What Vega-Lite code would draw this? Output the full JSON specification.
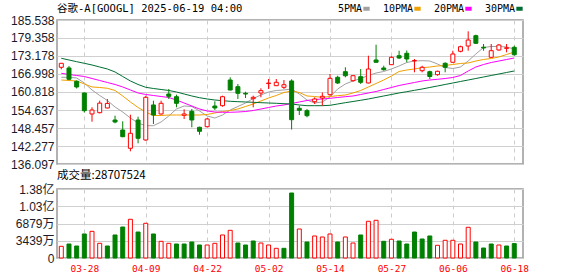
{
  "$schema": "https://vega.github.io/schema/vega-lite/v6.json",
  "padding": {"left": 6, "top": 2, "right": 0, "bottom": 0},
  "background": "#ffffff",
  "spacing": -3,
  "datasets": {
    "k": [
      {"d":"03-25","o":169.30,"h":170.70,"l":168.60,"c":170.67,"v":23300000,"vd":"u","5PMA":165.87,"10PMA":164.94,"20PMA":167.24,"30PMA":172.39},
      {"d":"03-26","o":169.06,"h":169.75,"l":164.90,"c":165.18,"v":27900000,"vd":"d","5PMA":165.87,"10PMA":164.77,"20PMA":166.83,"30PMA":171.81},
      {"d":"03-27","o":164.49,"h":164.77,"l":162.02,"c":162.54,"v":23900000,"vd":"d","5PMA":165.63,"10PMA":164.60,"20PMA":166.49,"30PMA":171.22},
      {"d":"03-28","o":160.47,"h":160.65,"l":153.78,"c":154.40,"v":47900000,"vd":"d","5PMA":163.91,"10PMA":163.57,"20PMA":166.14,"30PMA":170.67},
      {"d":"03-31","o":153.27,"h":155.56,"l":150.62,"c":154.64,"v":53200000,"vd":"u","5PMA":161.51,"10PMA":162.54,"20PMA":165.45,"30PMA":170.09},
      {"d":"04-01","o":153.71,"h":157.83,"l":153.50,"c":157.00,"v":29300000,"vd":"u","5PMA":159.62,"10PMA":162.37,"20PMA":164.77,"30PMA":169.40},
      {"d":"04-02","o":155.33,"h":158.42,"l":155.20,"c":156.90,"v":23900000,"vd":"d","5PMA":157.90,"10PMA":162.09,"20PMA":164.08,"30PMA":168.72},
      {"d":"04-03","o":151.20,"h":152.68,"l":150.07,"c":150.52,"v":45900000,"vd":"d","5PMA":155.67,"10PMA":161.34,"20PMA":163.40,"30PMA":167.69},
      {"d":"04-04","o":147.77,"h":150.76,"l":145.30,"c":145.47,"v":61800000,"vd":"d","5PMA":153.95,"10PMA":159.45,"20PMA":162.54,"30PMA":166.14},
      {"d":"04-07","o":141.49,"h":153.03,"l":140.46,"c":146.64,"v":77200000,"vd":"u","5PMA":151.89,"10PMA":157.39,"20PMA":161.51,"30PMA":164.60},
      {"d":"04-08","o":151.20,"h":152.34,"l":143.20,"c":144.92,"v":51800000,"vd":"d","5PMA":150.18,"10PMA":155.50,"20PMA":160.48,"30PMA":163.40},
      {"d":"04-09","o":144.34,"h":159.55,"l":144.10,"c":159.00,"v":69200000,"vd":"u","5PMA":149.25,"10PMA":153.95,"20PMA":159.96,"30PMA":162.43},
      {"d":"04-10","o":156.36,"h":157.83,"l":149.83,"c":152.92,"v":47900000,"vd":"d","5PMA":149.25,"10PMA":152.75,"20PMA":159.62,"30PMA":162.02},
      {"d":"04-11","o":153.27,"h":157.83,"l":153.03,"c":156.94,"v":33300000,"vd":"u","5PMA":150.52,"10PMA":152.75,"20PMA":159.27,"30PMA":161.68},
      {"d":"04-14","o":160.13,"h":161.85,"l":158.42,"c":159.34,"v":29300000,"vd":"u","5PMA":152.58,"10PMA":152.92,"20PMA":158.93,"30PMA":161.34},
      {"d":"04-15","o":159.20,"h":159.90,"l":155.56,"c":156.94,"v":27900000,"vd":"d","5PMA":154.98,"10PMA":152.92,"20PMA":158.07,"30PMA":160.82},
      {"d":"04-16","o":152.82,"h":154.88,"l":151.55,"c":153.27,"v":27900000,"vd":"d","5PMA":156.01,"10PMA":152.92,"20PMA":157.04,"30PMA":160.13},
      {"d":"04-17","o":154.19,"h":154.98,"l":148.70,"c":151.20,"v":31900000,"vd":"d","5PMA":155.84,"10PMA":152.92,"20PMA":156.01,"30PMA":159.45},
      {"d":"04-21","o":148.70,"h":148.90,"l":146.16,"c":147.33,"v":25900000,"vd":"d","5PMA":154.30,"10PMA":152.92,"20PMA":154.98,"30PMA":158.86},
      {"d":"04-22","o":148.90,"h":151.89,"l":148.70,"c":151.55,"v":25900000,"vd":"u","5PMA":152.58,"10PMA":153.10,"20PMA":154.30,"30PMA":158.42},
      {"d":"04-23","o":156.01,"h":157.62,"l":154.64,"c":155.33,"v":29300000,"vd":"u","5PMA":151.89,"10PMA":153.61,"20PMA":153.95,"30PMA":158.07},
      {"d":"04-24","o":156.12,"h":159.55,"l":155.77,"c":159.20,"v":45900000,"vd":"u","5PMA":152.92,"10PMA":154.13,"20PMA":153.85,"30PMA":157.83},
      {"d":"04-25","o":164.94,"h":165.86,"l":161.40,"c":161.50,"v":55200000,"vd":"u","5PMA":154.64,"10PMA":154.47,"20PMA":153.85,"30PMA":157.63},
      {"d":"04-28","o":162.64,"h":163.56,"l":158.42,"c":160.37,"v":29900000,"vd":"d","5PMA":155.84,"10PMA":154.98,"20PMA":153.95,"30PMA":157.49},
      {"d":"04-29","o":160.37,"h":160.92,"l":158.76,"c":160.13,"v":25900000,"vd":"d","5PMA":157.04,"10PMA":155.84,"20PMA":154.12,"30PMA":157.39},
      {"d":"04-30","o":158.52,"h":159.55,"l":155.56,"c":159.00,"v":33900000,"vd":"d","5PMA":158.59,"10PMA":156.70,"20PMA":154.47,"30PMA":157.28},
      {"d":"05-01","o":160.47,"h":162.09,"l":159.00,"c":161.27,"v":29900000,"vd":"u","5PMA":159.79,"10PMA":157.73,"20PMA":154.98,"30PMA":157.15},
      {"d":"05-02","o":163.70,"h":165.28,"l":161.85,"c":163.90,"v":25900000,"vd":"u","5PMA":160.82,"10PMA":158.76,"20PMA":155.50,"30PMA":157.04},
      {"d":"05-05","o":162.98,"h":165.28,"l":162.90,"c":164.15,"v":19300000,"vd":"u","5PMA":161.34,"10PMA":159.62,"20PMA":156.01,"30PMA":156.94},
      {"d":"05-06","o":162.43,"h":164.94,"l":161.85,"c":163.32,"v":19300000,"vd":"d","5PMA":161.51,"10PMA":160.65,"20PMA":156.36,"30PMA":156.80},
      {"d":"05-07","o":164.60,"h":165.17,"l":147.94,"c":151.31,"v":129600000,"vd":"d","5PMA":161.85,"10PMA":161.16,"20PMA":156.87,"30PMA":156.70},
      {"d":"05-08","o":155.22,"h":156.12,"l":152.92,"c":154.54,"v":57800000,"vd":"u","5PMA":160.13,"10PMA":160.65,"20PMA":157.39,"30PMA":156.36},
      {"d":"05-09","o":154.40,"h":154.98,"l":152.13,"c":152.68,"v":31900000,"vd":"d","5PMA":158.07,"10PMA":159.45,"20PMA":157.90,"30PMA":156.12},
      {"d":"05-12","o":157.49,"h":158.99,"l":156.70,"c":158.42,"v":43900000,"vd":"u","5PMA":157.04,"10PMA":159.27,"20PMA":158.24,"30PMA":156.12},
      {"d":"05-13","o":158.76,"h":160.65,"l":156.12,"c":159.34,"v":41900000,"vd":"u","5PMA":157.39,"10PMA":159.00,"20PMA":158.42,"30PMA":156.12},
      {"d":"05-14","o":159.89,"h":167.00,"l":159.55,"c":165.52,"v":47900000,"vd":"u","5PMA":159.10,"10PMA":159.27,"20PMA":158.66,"30PMA":156.25},
      {"d":"05-15","o":165.86,"h":166.41,"l":163.56,"c":163.91,"v":31900000,"vd":"d","5PMA":161.85,"10PMA":159.55,"20PMA":158.93,"30PMA":156.70},
      {"d":"05-16","o":167.79,"h":169.30,"l":165.86,"c":166.41,"v":41900000,"vd":"u","5PMA":163.57,"10PMA":159.79,"20PMA":159.21,"30PMA":157.15},
      {"d":"05-19","o":164.70,"h":166.55,"l":164.36,"c":166.41,"v":29900000,"vd":"u","5PMA":164.60,"10PMA":160.48,"20PMA":159.45,"30PMA":157.56},
      {"d":"05-20","o":166.07,"h":168.71,"l":163.56,"c":164.15,"v":45900000,"vd":"d","5PMA":165.45,"10PMA":161.34,"20PMA":159.96,"30PMA":157.97},
      {"d":"05-21","o":163.91,"h":173.28,"l":163.80,"c":168.71,"v":73200000,"vd":"u","5PMA":166.49,"10PMA":162.54,"20PMA":160.48,"30PMA":158.42},
      {"d":"05-22","o":171.81,"h":177.06,"l":170.95,"c":171.02,"v":75200000,"vd":"u","5PMA":167.34,"10PMA":163.74,"20PMA":160.99,"30PMA":158.93},
      {"d":"05-23","o":169.06,"h":169.85,"l":168.13,"c":168.47,"v":33300000,"vd":"d","5PMA":167.86,"10PMA":164.94,"20PMA":161.68,"30PMA":159.45},
      {"d":"05-27","o":170.19,"h":173.08,"l":170.10,"c":172.73,"v":37300000,"vd":"u","5PMA":168.72,"10PMA":166.31,"20PMA":162.37,"30PMA":159.96},
      {"d":"05-28","o":173.28,"h":174.98,"l":172.15,"c":172.49,"v":33900000,"vd":"d","5PMA":169.75,"10PMA":167.86,"20PMA":163.05,"30PMA":160.48},
      {"d":"05-29","o":174.11,"h":175.07,"l":171.02,"c":172.15,"v":27900000,"vd":"d","5PMA":170.95,"10PMA":168.37,"20PMA":163.57,"30PMA":160.92},
      {"d":"05-30","o":171.50,"h":172.15,"l":167.58,"c":171.63,"v":51800000,"vd":"d","5PMA":171.46,"10PMA":168.72,"20PMA":164.08,"30PMA":161.40},
      {"d":"06-02","o":168.13,"h":169.85,"l":167.58,"c":169.30,"v":37900000,"vd":"d","5PMA":171.57,"10PMA":169.16,"20PMA":164.60,"30PMA":161.85},
      {"d":"06-03","o":167.79,"h":168.13,"l":165.28,"c":166.14,"v":43900000,"vd":"d","5PMA":171.46,"10PMA":169.40,"20PMA":164.94,"30PMA":162.37},
      {"d":"06-04","o":166.76,"h":168.13,"l":166.41,"c":167.93,"v":25300000,"vd":"u","5PMA":170.43,"10PMA":169.75,"20PMA":165.18,"30PMA":162.88},
      {"d":"06-05","o":170.67,"h":171.02,"l":167.58,"c":169.30,"v":35300000,"vd":"u","5PMA":169.23,"10PMA":169.92,"20PMA":165.45,"30PMA":163.40},
      {"d":"06-06","o":171.02,"h":174.99,"l":170.95,"c":173.86,"v":35300000,"vd":"u","5PMA":168.89,"10PMA":170.26,"20PMA":165.80,"30PMA":163.91},
      {"d":"06-09","o":174.79,"h":176.71,"l":174.45,"c":176.37,"v":27900000,"vd":"u","5PMA":169.40,"10PMA":170.61,"20PMA":166.49,"30PMA":164.43},
      {"d":"06-10","o":176.61,"h":181.66,"l":175.00,"c":178.67,"v":61200000,"vd":"u","5PMA":171.46,"10PMA":170.78,"20PMA":168.03,"30PMA":164.94},
      {"d":"06-11","o":180.15,"h":180.49,"l":177.30,"c":177.54,"v":31900000,"vd":"d","5PMA":173.87,"10PMA":171.46,"20PMA":169.40,"30PMA":165.45},
      {"d":"06-12","o":176.20,"h":177.30,"l":175.00,"c":175.95,"v":19900000,"vd":"d","5PMA":176.10,"10PMA":171.98,"20PMA":170.26,"30PMA":165.97},
      {"d":"06-13","o":172.73,"h":177.30,"l":172.50,"c":175.00,"v":27900000,"vd":"d","5PMA":176.44,"10PMA":172.32,"20PMA":170.95,"30PMA":166.49},
      {"d":"06-16","o":175.24,"h":177.30,"l":175.00,"c":176.95,"v":25900000,"vd":"u","5PMA":176.44,"10PMA":172.84,"20PMA":171.46,"30PMA":167.00},
      {"d":"06-17","o":175.80,"h":177.30,"l":174.45,"c":176.00,"v":23900000,"vd":"d","5PMA":176.27,"10PMA":173.69,"20PMA":171.98,"30PMA":167.52},
      {"d":"06-18","o":176.16,"h":176.71,"l":173.28,"c":173.62,"v":28707524,"vd":"d","5PMA":175.58,"10PMA":174.55,"20PMA":172.49,"30PMA":168.03}
    ]
  },
  "vconcat": [
    {
      "width": 466,
      "height": 144,
      "data": {"name": "k"},
      "title": {"text": "谷歌-A[GOOGL] 2025-06-19 04:00", "anchor": "start", "frame": "group", "font": "DejaVu Sans Mono, Noto Sans CJK SC", "fontSize": 10.5, "fontWeight": "normal", "color": "#000000", "offset": 0},
      "encoding": {
        "x": {"field": "d", "type": "ordinal", "sort": null,
              "scale": {"type": "point", "padding": 0.85, "align": 0.33},
              "axis": {"title": null, "labels": false, "ticks": false, "domain": false, "grid": true, "gridDash": [4, 4], "gridColor": "#cccccc", "minExtent": 0, "maxExtent": 0,
                       "values": ["03-28","04-09","04-22","05-02","05-14","05-27","06-06","06-18"]}}
      },
      "layer": [
        {
          "transform": [{"fold": ["5PMA", "10PMA", "20PMA", "30PMA"], "as": ["ma", "val"]}],
          "mark": {"type": "line", "strokeWidth": 1, "interpolate": "linear"},
          "encoding": {
            "y": {"field": "val", "type": "quantitative",
                  "scale": {"domain": [136.097, 185.538], "zero": false, "nice": false},
                  "axis": {"title": null, "values": [136.097, 142.277, 148.457, 154.637, 160.818, 166.998, 173.178, 179.358, 185.538], "format": ".3f", "labelOverlap": false, "grid": true, "gridColor": "#d0d0d0", "ticks": false, "domain": false, "labelPadding": 3, "minExtent": 50, "maxExtent": 50}},
            "color": {"field": "ma", "type": "nominal",
                      "scale": {"domain": ["5PMA", "10PMA", "20PMA", "30PMA"], "range": ["#a0a0a0", "#f0a000", "#ff00ff", "#006e32"]},
                      "legend": {"title": null, "orient": "none", "legendX": 304, "legendY": -17, "direction": "horizontal",
                                 "labelFont": "DejaVu Sans Mono", "labelFontSize": 10, "labelColor": "#000000",
                                 "symbolType": "stroke", "symbolStrokeWidth": 4, "symbolSize": 40,
                                 "labelAlign": "right", "labelOffset": -10, "columnPadding": 4}}
          }
        },
        {
          "mark": {"type": "rule", "strokeWidth": 1},
          "encoding": {
            "y": {"field": "l", "type": "quantitative",
                  "axis": {"title": null, "values": [136.097, 142.277, 148.457, 154.637, 160.818, 166.998, 173.178, 179.358, 185.538], "format": ".3f", "labelOverlap": false, "grid": true, "gridColor": "#d0d0d0", "ticks": false, "domain": false, "labelPadding": 3, "minExtent": 50, "maxExtent": 50}},
            "y2": {"field": "h"},
            "stroke": {"condition": {"test": "datum.c >= datum.o", "value": "#ff0000"}, "value": "#008000"}
          }
        },
        {
          "mark": {"type": "bar", "size": 4, "strokeWidth": 1},
          "encoding": {
            "y": {"field": "o", "type": "quantitative",
                  "axis": {"title": null, "values": [136.097, 142.277, 148.457, 154.637, 160.818, 166.998, 173.178, 179.358, 185.538], "format": ".3f", "labelOverlap": false, "grid": true, "gridColor": "#d0d0d0", "ticks": false, "domain": false, "labelPadding": 3, "minExtent": 50, "maxExtent": 50}},
            "y2": {"field": "c"},
            "fill": {"condition": {"test": "datum.c >= datum.o", "value": "#ffffff"}, "value": "#008000"},
            "stroke": {"condition": {"test": "datum.c >= datum.o", "value": "#ff0000"}, "value": "#008000"}
          }
        }
      ]
    },
    {
      "width": 466,
      "height": 69,
      "data": {"name": "k"},
      "title": {"text": "成交量:28707524", "anchor": "start", "frame": "group", "font": "Noto Sans CJK SC", "fontSize": 11.5, "fontWeight": "normal", "color": "#000000", "offset": 2},
      "mark": {"type": "bar", "size": 4, "strokeWidth": 1},
      "encoding": {
        "x": {"field": "d", "type": "ordinal", "sort": null,
              "scale": {"type": "point", "padding": 0.85, "align": 0.33},
              "axis": {"title": null, "ticks": false, "domain": false, "grid": true, "gridDash": [4, 4], "gridColor": "#cccccc", "labelAngle": 0,
                       "labelColor": "#ff0000", "labelFont": "DejaVu Sans Mono", "labelFontSize": 9.5, "labelPadding": 5,
                       "values": ["03-28","04-09","04-22","05-02","05-14","05-27","06-06","06-18"]}},
        "y": {"field": "v", "type": "quantitative",
              "scale": {"domain": [0, 137580000], "nice": false},
              "axis": {"title": null, "values": [0, 34395000, 68790000, 103185000, 137580000], "labelOverlap": false,
                       "labelExpr": "datum.value == 0 ? '0' : (datum.value < 100000000 ? floor(datum.value / 10000) + '万' : format(datum.value / 100000000, '.2f') + '亿')",
                       "grid": true, "gridColor": "#d0d0d0", "ticks": false, "domain": false, "labelPadding": 3, "minExtent": 50, "maxExtent": 50}},
        "fill": {"condition": {"test": "datum.vd == 'u'", "value": "#ffffff"}, "value": "#008000"},
        "stroke": {"condition": {"test": "datum.vd == 'u'", "value": "#ff0000"}, "value": "#008000"}
      }
    }
  ],
  "config": {
    "view": {"stroke": "#999999", "strokeWidth": 1.5},
    "axis": {"labelFont": "Liberation Sans, Noto Sans CJK SC", "labelFontSize": 12, "labelColor": "#1a1a2a"},
    "title": {"fontWeight": "normal"}
  }
}
